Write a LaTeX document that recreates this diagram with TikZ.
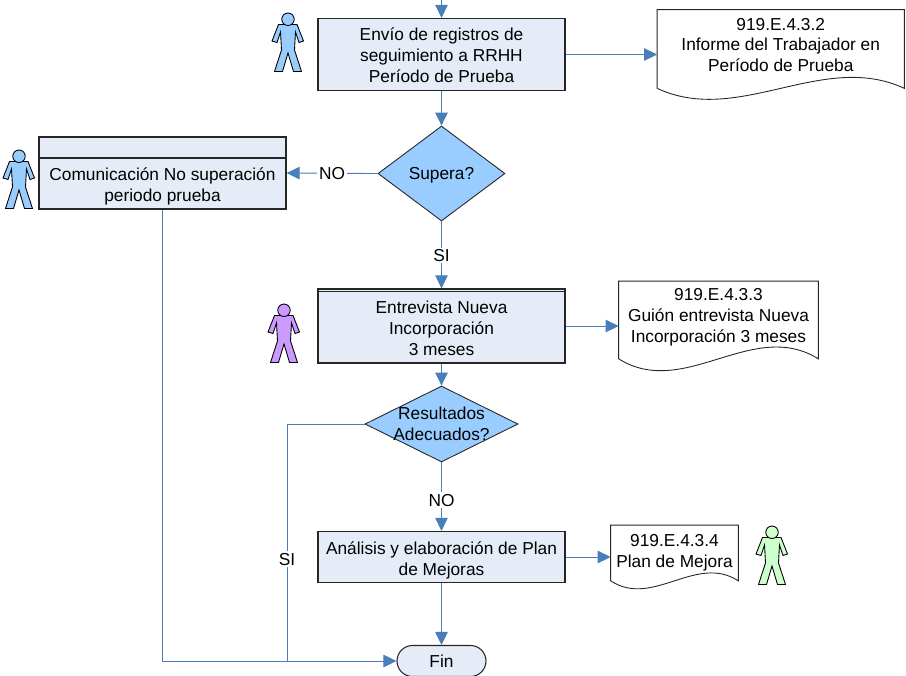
\documentclass[tikz,border=0pt]{standalone}
\usepackage{fontspec}
\setmainfont{Liberation Sans}
\usepackage{xcolor}
\usetikzlibrary{arrows.meta,calc,shapes.geometric,shapes.misc}

\definecolor{boxfill}{HTML}{E6ECF7}
\definecolor{decfill}{HTML}{99CCFF}
\definecolor{linkblue}{HTML}{4A7EBB}
\definecolor{edgegray}{HTML}{262626}
\definecolor{personpurple}{HTML}{CC99FF}
\definecolor{persongreen}{HTML}{CCFFCC}

% outline of a document: name, rise of the lower corners, depth of the wave
\newcommand{\docshape}[3]{%
\draw[edgegray, line width=0.5pt] ($(#1.south west)+(0,#2)$) -- (#1.north west) -- (#1.north east) -- ($(#1.south east)+(0,#2)$)
  .. controls ($(#1.south west)!0.67!(#1.south east)+(0,#2+#3)$) and ($(#1.south west)!0.33!(#1.south east)+(0,#2-#3)$) .. ($(#1.south west)+(0,#2)$);}

\begin{document}
\begin{tikzpicture}[%
font=\fontsize{9.85}{11.9}\selectfont,
% common options for the process boxes:
procbox/.style = {rectangle, draw=edgegray, line width=0.7pt, fill=boxfill, align=center,
            minimum width=4.94cm, inner sep=0},
% common options for the decisions:
decision/.style = {diamond, draw=edgegray, line width=0.5pt, fill=decfill, align=center, inner sep=0},
docbox/.style = {rectangle, inner sep=0},
link/.style = {draw=linkblue, line width=0.5pt},
arrow/.style = {link, -{Triangle[length=0.26cm,width=0.25cm,fill=linkblue]}},
tag/.style = {fill=white, inner sep=1pt},
person/.pic = {
  \path[draw=black, line width=0.5pt, pic actions] (0.13,-0.23) -- (0,-0.56) -- (0.1,-0.59) -- (0.17,-0.38)
    -- (0.19,-0.74) -- (0.05,-1.17) -- (0.21,-1.17) -- (0.32,-0.8) -- (0.43,-1.17) -- (0.59,-1.17)
    -- (0.45,-0.74) -- (0.47,-0.38) -- (0.54,-0.59) -- (0.63,-0.56) -- (0.5,-0.23) -- cycle;
  \path[draw=black, line width=0.5pt, pic actions] (0.32,-0.125) circle (0.125);
}]
\useasboundingbox (0,0) rectangle (18.12,-13.5);

\coordinate (T0) at (8.83,0);
\node[procbox,minimum height=1.44cm,label={[align=center,yshift=-0.015cm]center:Envío de registros de\\seguimiento a RRHH\\Período de Prueba}] (B1) at (8.83,-1.09) {};
\node[decision,minimum width=2.54cm,minimum height=1.9cm,label={[yshift=-0.04cm]center:Supera?}] (D1) at (8.83,-3.47) {};
\node[procbox,minimum height=1.44cm,label={[align=center,yshift=-0.27cm]center:Comunicación No superación\\periodo prueba}] (B2) at (3.25,-3.46) {};
\node[procbox,minimum height=1.48cm,label={[align=center,yshift=-0.04cm]center:Entrevista Nueva\\Incorporación\\3 meses}] (B3) at (8.83,-6.52) {};
\node[decision,minimum width=3.06cm,minimum height=1.52cm,label={[align=center]center:Resultados\\Adecuados?}] (D2) at (8.83,-8.48) {};
\node[procbox,minimum height=1.02cm,label={[align=center,yshift=-0.06cm]center:Análisis y elaboración de Plan\\de Mejoras}] (B4) at (8.83,-11.14) {};
\node[rounded rectangle,draw=edgegray,line width=0.6pt,fill=boxfill,minimum width=1.78cm,minimum height=0.62cm,inner sep=0] (F) at (8.83,-13.22) {Fin};

\node[docbox,minimum width=4.93cm,minimum height=1.78cm,label={[align=center,yshift=0.19cm]center:919.E.4.3.2\\Informe del Trabajador en\\Período de Prueba}] (C1) at (15.615,-1.09) {};
\node[docbox,minimum width=3.98cm,minimum height=1.78cm,label={[align=center,yshift=0.17cm]center:919.E.4.3.3\\Guión entrevista Nueva\\Incorporación 3 meses}] (C2) at (14.37,-6.52) {};
\node[docbox,minimum width=2.54cm,minimum height=1.26cm,label={[align=center,yshift=0.08cm]center:919.E.4.3.4\\Plan de Mejora}] (C3) at (13.49,-11.14) {};
\docshape{C1}{0.22}{0.76}
\docshape{C2}{0.24}{0.82}
\docshape{C3}{0.16}{0.55}

% header of the left box, double top of the interview box
\draw[edgegray,line width=0.7pt] ($(B2.north west)+(0,-0.43)$) -- ($(B2.north east)+(0,-0.43)$);
\draw[edgegray,line width=0.7pt] ($(B3.north west)+(0,-0.06)$) -- ($(B3.north east)+(0,-0.06)$);

\pic[fill=decfill] (P1) at (5.44,-0.26) {person};
\pic[fill=decfill] (P2) at (0.06,-3.0) {person};
\pic[fill=personpurple] (P3) at (5.36,-6.08) {person};
\pic[fill=persongreen] (P4) at (15.12,-10.52) {person};

\draw[arrow] (T0) to (B1.north);
\draw[arrow] (B1.south) to (D1.north);
\draw[arrow] (B1.east) to (C1.west);
\draw[arrow] (D1.west) to node[tag] (N1) {NO} (B2.east);
\draw[arrow] (D1.south) to node[tag,pos=0.51] (S1) {SI} (B3.north);
\draw[arrow] (B3.east) to (C2.west);
\draw[arrow] (B3.south) to (D2.north);
\draw[arrow] (D2.south) to node[tag,pos=0.55] (N2) {NO} (B4.north);
\draw[arrow] (B4.east) to (C3.west);
\draw[arrow] (B4.south) to (F.north);
\draw[arrow] (B2.south) |- (F.west);
\coordinate (J0) at (5.74,-13.22);
\draw[link] (D2.west) -| node[tag,pos=0.785] (S2) {SI} (J0);
\end{tikzpicture}
\end{document}
